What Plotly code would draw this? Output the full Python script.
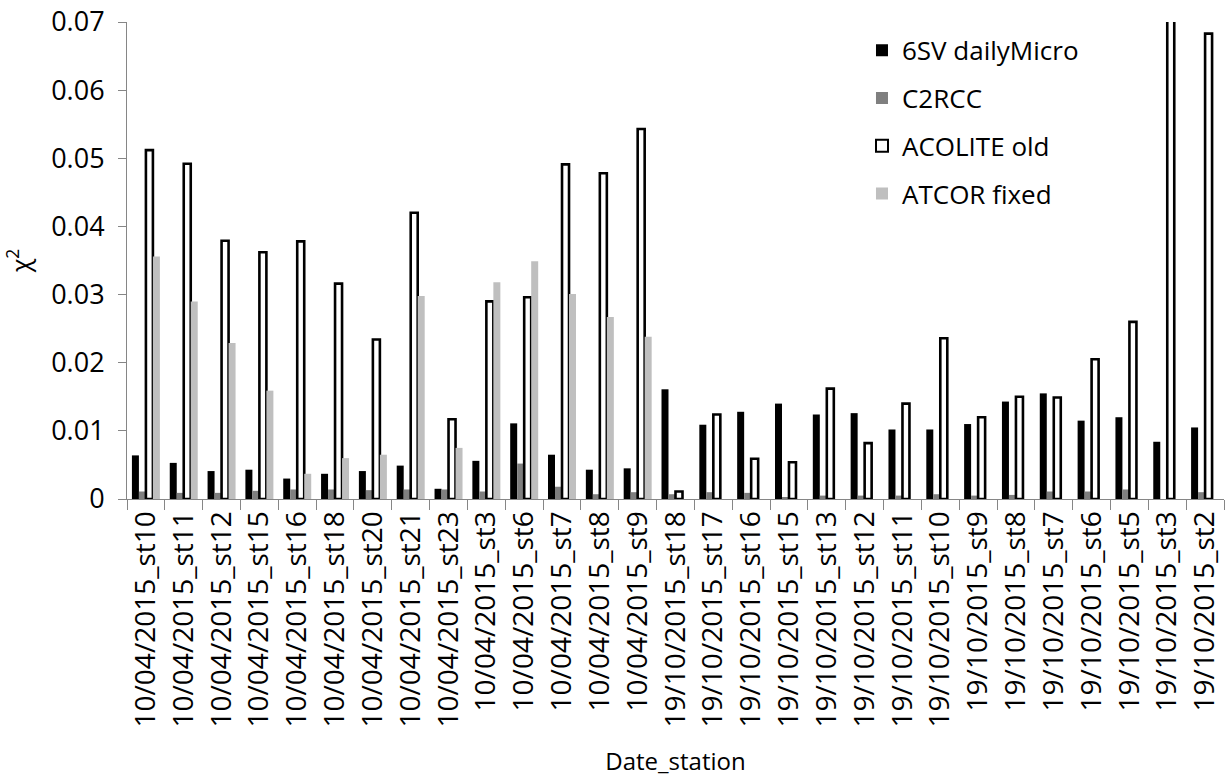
import plotly.graph_objects as go

# Date_station categories
stations = [
    "10/04/2015_st10", "10/04/2015_st11", "10/04/2015_st12", "10/04/2015_st15",
    "10/04/2015_st16", "10/04/2015_st18", "10/04/2015_st20", "10/04/2015_st21",
    "10/04/2015_st23", "10/04/2015_st3", "10/04/2015_st6", "10/04/2015_st7",
    "10/04/2015_st8", "10/04/2015_st9", "19/10/2015_st18", "19/10/2015_st17",
    "19/10/2015_st16", "19/10/2015_st15", "19/10/2015_st13", "19/10/2015_st12",
    "19/10/2015_st11", "19/10/2015_st10", "19/10/2015_st9", "19/10/2015_st8",
    "19/10/2015_st7", "19/10/2015_st6", "19/10/2015_st5", "19/10/2015_st3",
    "19/10/2015_st2",
]

sixsv_daily_micro = [
    0.0064, 0.0053, 0.0041, 0.0043, 0.0030, 0.0037, 0.0041, 0.0049, 0.0015, 0.0056,
    0.0111, 0.0065, 0.0043, 0.0045, 0.0161, 0.0109, 0.0128, 0.0140, 0.0124, 0.0126,
    0.0102, 0.0102, 0.0110, 0.0143, 0.0155, 0.0115, 0.0120, 0.0084, 0.0105,
]

c2rcc = [
    0.0011, 0.0009, 0.0009, 0.0012, 0.0014, 0.0014, 0.0013, 0.0014, 0.0014, 0.0011,
    0.0052, 0.0018, 0.0007, 0.0010, 0.0007, 0.0010, 0.0009, 0.0002, 0.0005, 0.0005,
    0.0005, 0.0007, 0.0005, 0.0006, 0.0011, 0.0011, 0.0014, 0.0000, 0.0010,
]

acolite_old = [
    0.0512, 0.0492, 0.0379, 0.0362, 0.0378, 0.0316, 0.0234, 0.0420, 0.0117, 0.0290,
    0.0296, 0.0491, 0.0478, 0.0543, 0.0011, 0.0124, 0.0059, 0.0054, 0.0162, 0.0082,
    0.0140, 0.0236, 0.0120, 0.0150, 0.0149, 0.0205, 0.0260, 0.0850, 0.0683,
]

atcor_fixed = [
    0.0356, 0.0290, 0.0229, 0.0159, 0.0037, 0.0060, 0.0065, 0.0298, 0.0075, 0.0318,
    0.0349, 0.0301, 0.0267, 0.0238, None, None, None, None, None, None,
    None, None, None, None, None, None, None, None, None,
]

y_ticks = [0, 0.01, 0.02, 0.03, 0.04, 0.05, 0.06, 0.07]
y_tick_text = ["0", "0.01", "0.02", "0.03", "0.04", "0.05", "0.06", "0.07"]

FONT = "Open Sans"
AXIS_GRAY = "#868686"

fig = go.Figure()
fig.add_trace(go.Bar(name="6SV dailyMicro", x=stations, y=sixsv_daily_micro,
                     marker=dict(color="#000000", line=dict(width=0)),
                     legendgroup="a"))
fig.add_trace(go.Bar(name="C2RCC", x=stations, y=c2rcc,
                     marker=dict(color="#7f7f7f", line=dict(width=0)),
                     legendgroup="b"))
fig.add_trace(go.Bar(name="ACOLITE old", x=stations, y=acolite_old,
                     marker=dict(color="#ffffff", line=dict(color="#000000", width=2.6)),
                     legendgroup="c"))
fig.add_trace(go.Bar(name="ATCOR fixed", x=stations, y=atcor_fixed,
                     marker=dict(color="#bfbfbf", line=dict(width=0)),
                     legendgroup="d"))

fig.update_layout(
    width=1226, height=781,
    barmode="group", bargap=0.26, bargroupgap=0,
    paper_bgcolor="#ffffff", plot_bgcolor="#ffffff",
    margin=dict(l=127, r=2, t=22, b=282, autoexpand=False),
    font=dict(family=FONT, color="#000000"),
    showlegend=True,
    legend=dict(
        x=0.67, y=0.99, xanchor="left", yanchor="top",
        font=dict(family=FONT, size=26, color="#000000"),
        bgcolor="rgba(0,0,0,0)", tracegroupgap=11,
        traceorder="grouped", itemsizing="constant",
    ),
)

fig.update_yaxes(
    range=[0, 0.07], tickvals=y_ticks, ticktext=y_tick_text,
    showgrid=False, zeroline=False,
    showline=True, linecolor=AXIS_GRAY, linewidth=1,
    ticks="outside", ticklen=8, tickcolor=AXIS_GRAY,
    tickfont=dict(family=FONT, size=27, color="#000000"),
    ticklabelstandoff=8,
    title=dict(text="χ<sup>2</sup>", font=dict(family=FONT, size=25), standoff=18),
)

fig.update_xaxes(
    type="category", tickangle=-90,
    showgrid=False, zeroline=False,
    showline=True, linecolor=AXIS_GRAY, linewidth=1,
    ticks="outside", ticklen=10, tickcolor=AXIS_GRAY, tickson="boundaries",
    tickfont=dict(family=FONT, size=28, color="#000000"),
    title=dict(text="Date_station", font=dict(family=FONT, size=24), standoff=26),
)

fig.write_html("out.html")
